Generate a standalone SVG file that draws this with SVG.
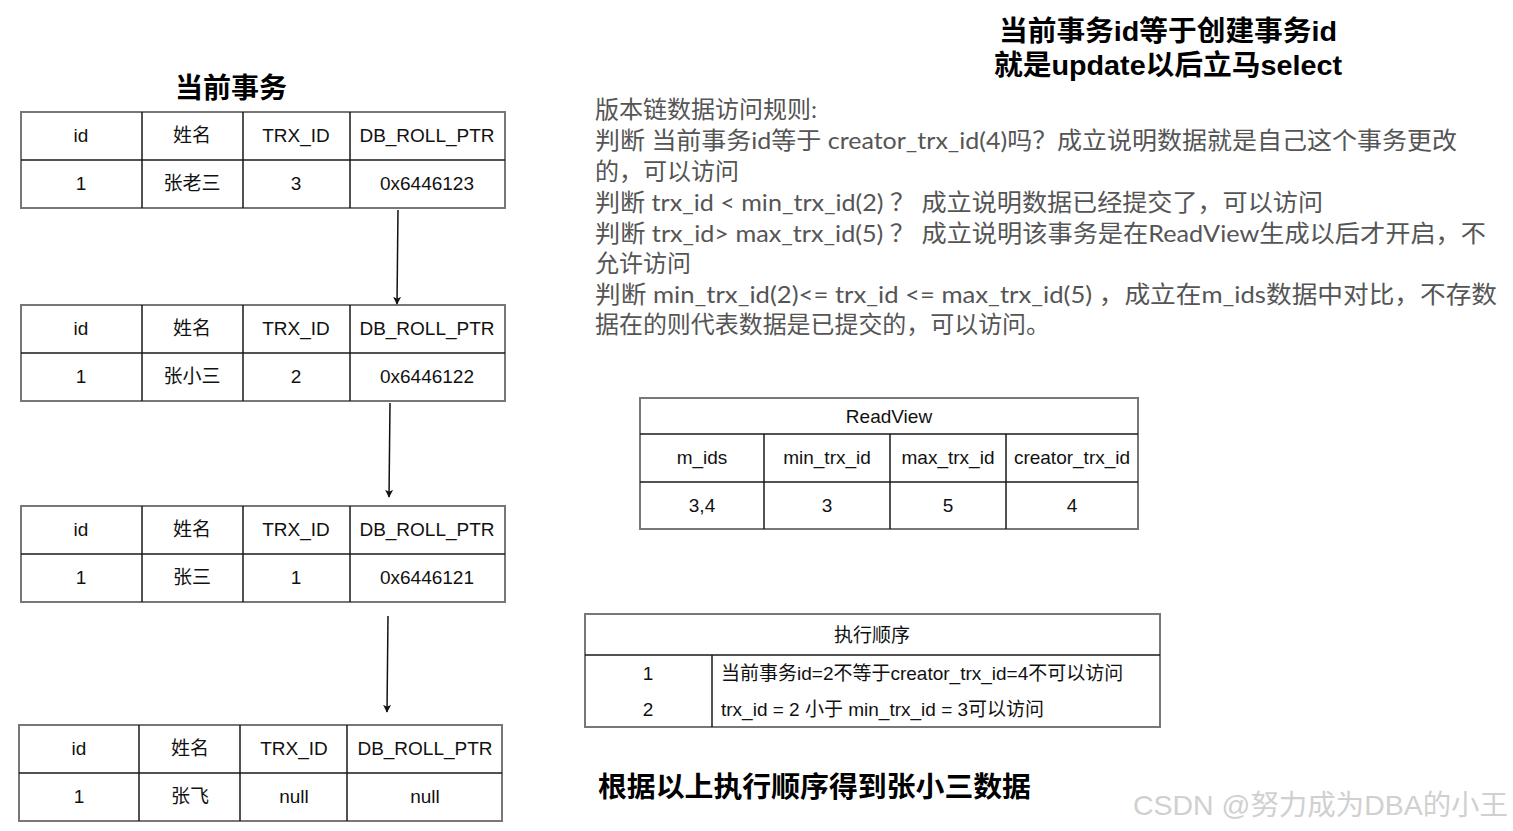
<svg xmlns="http://www.w3.org/2000/svg" width="1513" height="831" viewBox="0 0 1513 831">
<style>
.bg{fill:#fff}
.tb{fill:#fff;stroke:#777;stroke-width:2}
.ln{stroke:#1a1a1a;stroke-width:1.5;fill:none}
.t{font-family:"Liberation Sans","Noto Sans CJK SC",sans-serif;font-size:19px;fill:#111;text-anchor:middle}
.tl{font-family:"Liberation Sans","Noto Sans CJK SC",sans-serif;font-size:19px;fill:#111}
.h{font-family:"Liberation Sans","Noto Sans CJK SC",sans-serif;font-size:28px;font-weight:bold;fill:#000}
.r{font-family:Lato,"Noto Sans CJK SC",sans-serif;font-size:24px;fill:#555}
.wm{font-family:"Liberation Sans","Noto Sans CJK SC",sans-serif;font-size:28px;fill:#d0d0d0}
.cn{stroke:#111;stroke-width:1.5;fill:none;marker-end:url(#ah)}
</style>
<defs>
<marker id="ah" viewBox="0 0 10 10" refX="9" refY="5" markerWidth="8" markerHeight="8" markerUnits="userSpaceOnUse" orient="auto">
<path d="M0,0 L10,5 L0,10 L2.5,5 z" fill="#111"/>
</marker>
</defs>
<rect class="bg" x="0" y="0" width="1513" height="831"/>

<text class="h" x="231" y="98" text-anchor="middle">当前事务</text>
<g id="title-right">
<text class="h" x="1168" y="41" text-anchor="middle" textLength="338" lengthAdjust="spacingAndGlyphs">当前事务id等于创建事务id</text>
<text class="h" x="1168" y="75" text-anchor="middle" textLength="348" lengthAdjust="spacingAndGlyphs">就是update以后立马select</text>
</g>

<g id="row-v3">
<rect class="tb" x="21" y="112" width="484" height="96"/>
<path class="ln" d="M21,160H505M142,112V208M243,112V208M350,112V208"/>
<text class="t" x="81" y="142">id</text>
<text class="t" x="192" y="142">姓名</text>
<text class="t" x="296" y="142">TRX_ID</text>
<text class="t" x="427" y="142">DB_ROLL_PTR</text>
<text class="t" x="81" y="190">1</text>
<text class="t" x="192" y="190">张老三</text>
<text class="t" x="296" y="190">3</text>
<text class="t" x="427" y="190">0x6446123</text>
</g>

<g id="row-v2">
<rect class="tb" x="21" y="305" width="484" height="96"/>
<path class="ln" d="M21,353H505M142,305V401M243,305V401M350,305V401"/>
<text class="t" x="81" y="335">id</text>
<text class="t" x="192" y="335">姓名</text>
<text class="t" x="296" y="335">TRX_ID</text>
<text class="t" x="427" y="335">DB_ROLL_PTR</text>
<text class="t" x="81" y="383">1</text>
<text class="t" x="192" y="383">张小三</text>
<text class="t" x="296" y="383">2</text>
<text class="t" x="427" y="383">0x6446122</text>
</g>

<g id="row-v1">
<rect class="tb" x="21" y="506" width="484" height="96"/>
<path class="ln" d="M21,554H505M142,506V602M243,506V602M350,506V602"/>
<text class="t" x="81" y="536">id</text>
<text class="t" x="192" y="536">姓名</text>
<text class="t" x="296" y="536">TRX_ID</text>
<text class="t" x="427" y="536">DB_ROLL_PTR</text>
<text class="t" x="81" y="584">1</text>
<text class="t" x="192" y="584">张三</text>
<text class="t" x="296" y="584">1</text>
<text class="t" x="427" y="584">0x6446121</text>
</g>

<g id="row-v0">
<rect class="tb" x="19" y="725" width="483" height="96"/>
<path class="ln" d="M19,773H502M139,725V821M240,725V821M347,725V821"/>
<text class="t" x="79" y="755">id</text>
<text class="t" x="190" y="755">姓名</text>
<text class="t" x="294" y="755">TRX_ID</text>
<text class="t" x="425" y="755">DB_ROLL_PTR</text>
<text class="t" x="79" y="803">1</text>
<text class="t" x="190" y="803">张飞</text>
<text class="t" x="294" y="803">null</text>
<text class="t" x="425" y="803">null</text>
</g>

<g id="connectors">
<path class="cn" d="M398,210L397,304"/>
<path class="cn" d="M390,403L389,497"/>
<path class="cn" d="M388,616L387,712"/>
</g>

<g id="rules">
<text class="r" x="595" y="118">版本链数据访问规则:</text>
<text class="r" x="595" y="149" textLength="862" lengthAdjust="spacingAndGlyphs">判断 当前事务id等于 creator_trx_id(4)吗？成立说明数据就是自己这个事务更改</text>
<text class="r" x="595" y="180">的，可以访问</text>
<text class="r" x="595" y="211" textLength="728" lengthAdjust="spacingAndGlyphs">判断 trx_id &lt; min_trx_id(2) ？ 成立说明数据已经提交了，可以访问</text>
<text class="r" x="595" y="242" textLength="891" lengthAdjust="spacingAndGlyphs">判断 trx_id&gt; max_trx_id(5) ？ 成立说明该事务是在ReadView生成以后才开启，不</text>
<text class="r" x="595" y="272">允许访问</text>
<text class="r" x="595" y="303" textLength="902" lengthAdjust="spacingAndGlyphs">判断 min_trx_id(2)&lt;= trx_id &lt;= max_trx_id(5) ，成立在m_ids数据中对比，不存数</text>
<text class="r" x="595" y="333" textLength="455" lengthAdjust="spacingAndGlyphs">据在的则代表数据是已提交的，可以访问。</text>
</g>

<g id="readview">
<rect class="tb" x="640" y="398" width="498" height="131"/>
<path class="ln" d="M640,434H1138M640,482H1138M764,434V529M890,434V529M1006,434V529"/>
<text class="t" x="889" y="423">ReadView</text>
<text class="t" x="702" y="464">m_ids</text>
<text class="t" x="827" y="464">min_trx_id</text>
<text class="t" x="948" y="464">max_trx_id</text>
<text class="t" x="1072" y="464">creator_trx_id</text>
<text class="t" x="702" y="512">3,4</text>
<text class="t" x="827" y="512">3</text>
<text class="t" x="948" y="512">5</text>
<text class="t" x="1072" y="512">4</text>
</g>

<g id="exec-order">
<rect class="tb" x="585" y="614" width="575" height="113"/>
<path class="ln" d="M585,655H1160M712,655V727"/>
<text class="t" x="872" y="642">执行顺序</text>
<text class="t" x="648" y="680">1</text>
<text class="tl" x="721" y="680">当前事务id=2不等于creator_trx_id=4不可以访问</text>
<text class="t" x="648" y="716">2</text>
<text class="tl" x="721" y="716">trx_id = 2 小于 min_trx_id = 3可以访问</text>
</g>

<text class="h" x="598" y="797" textLength="433" lengthAdjust="spacingAndGlyphs">根据以上执行顺序得到张小三数据</text>
<text class="wm" x="1133" y="815" textLength="375" lengthAdjust="spacingAndGlyphs">CSDN @努力成为DBA的小王</text>
</svg>
